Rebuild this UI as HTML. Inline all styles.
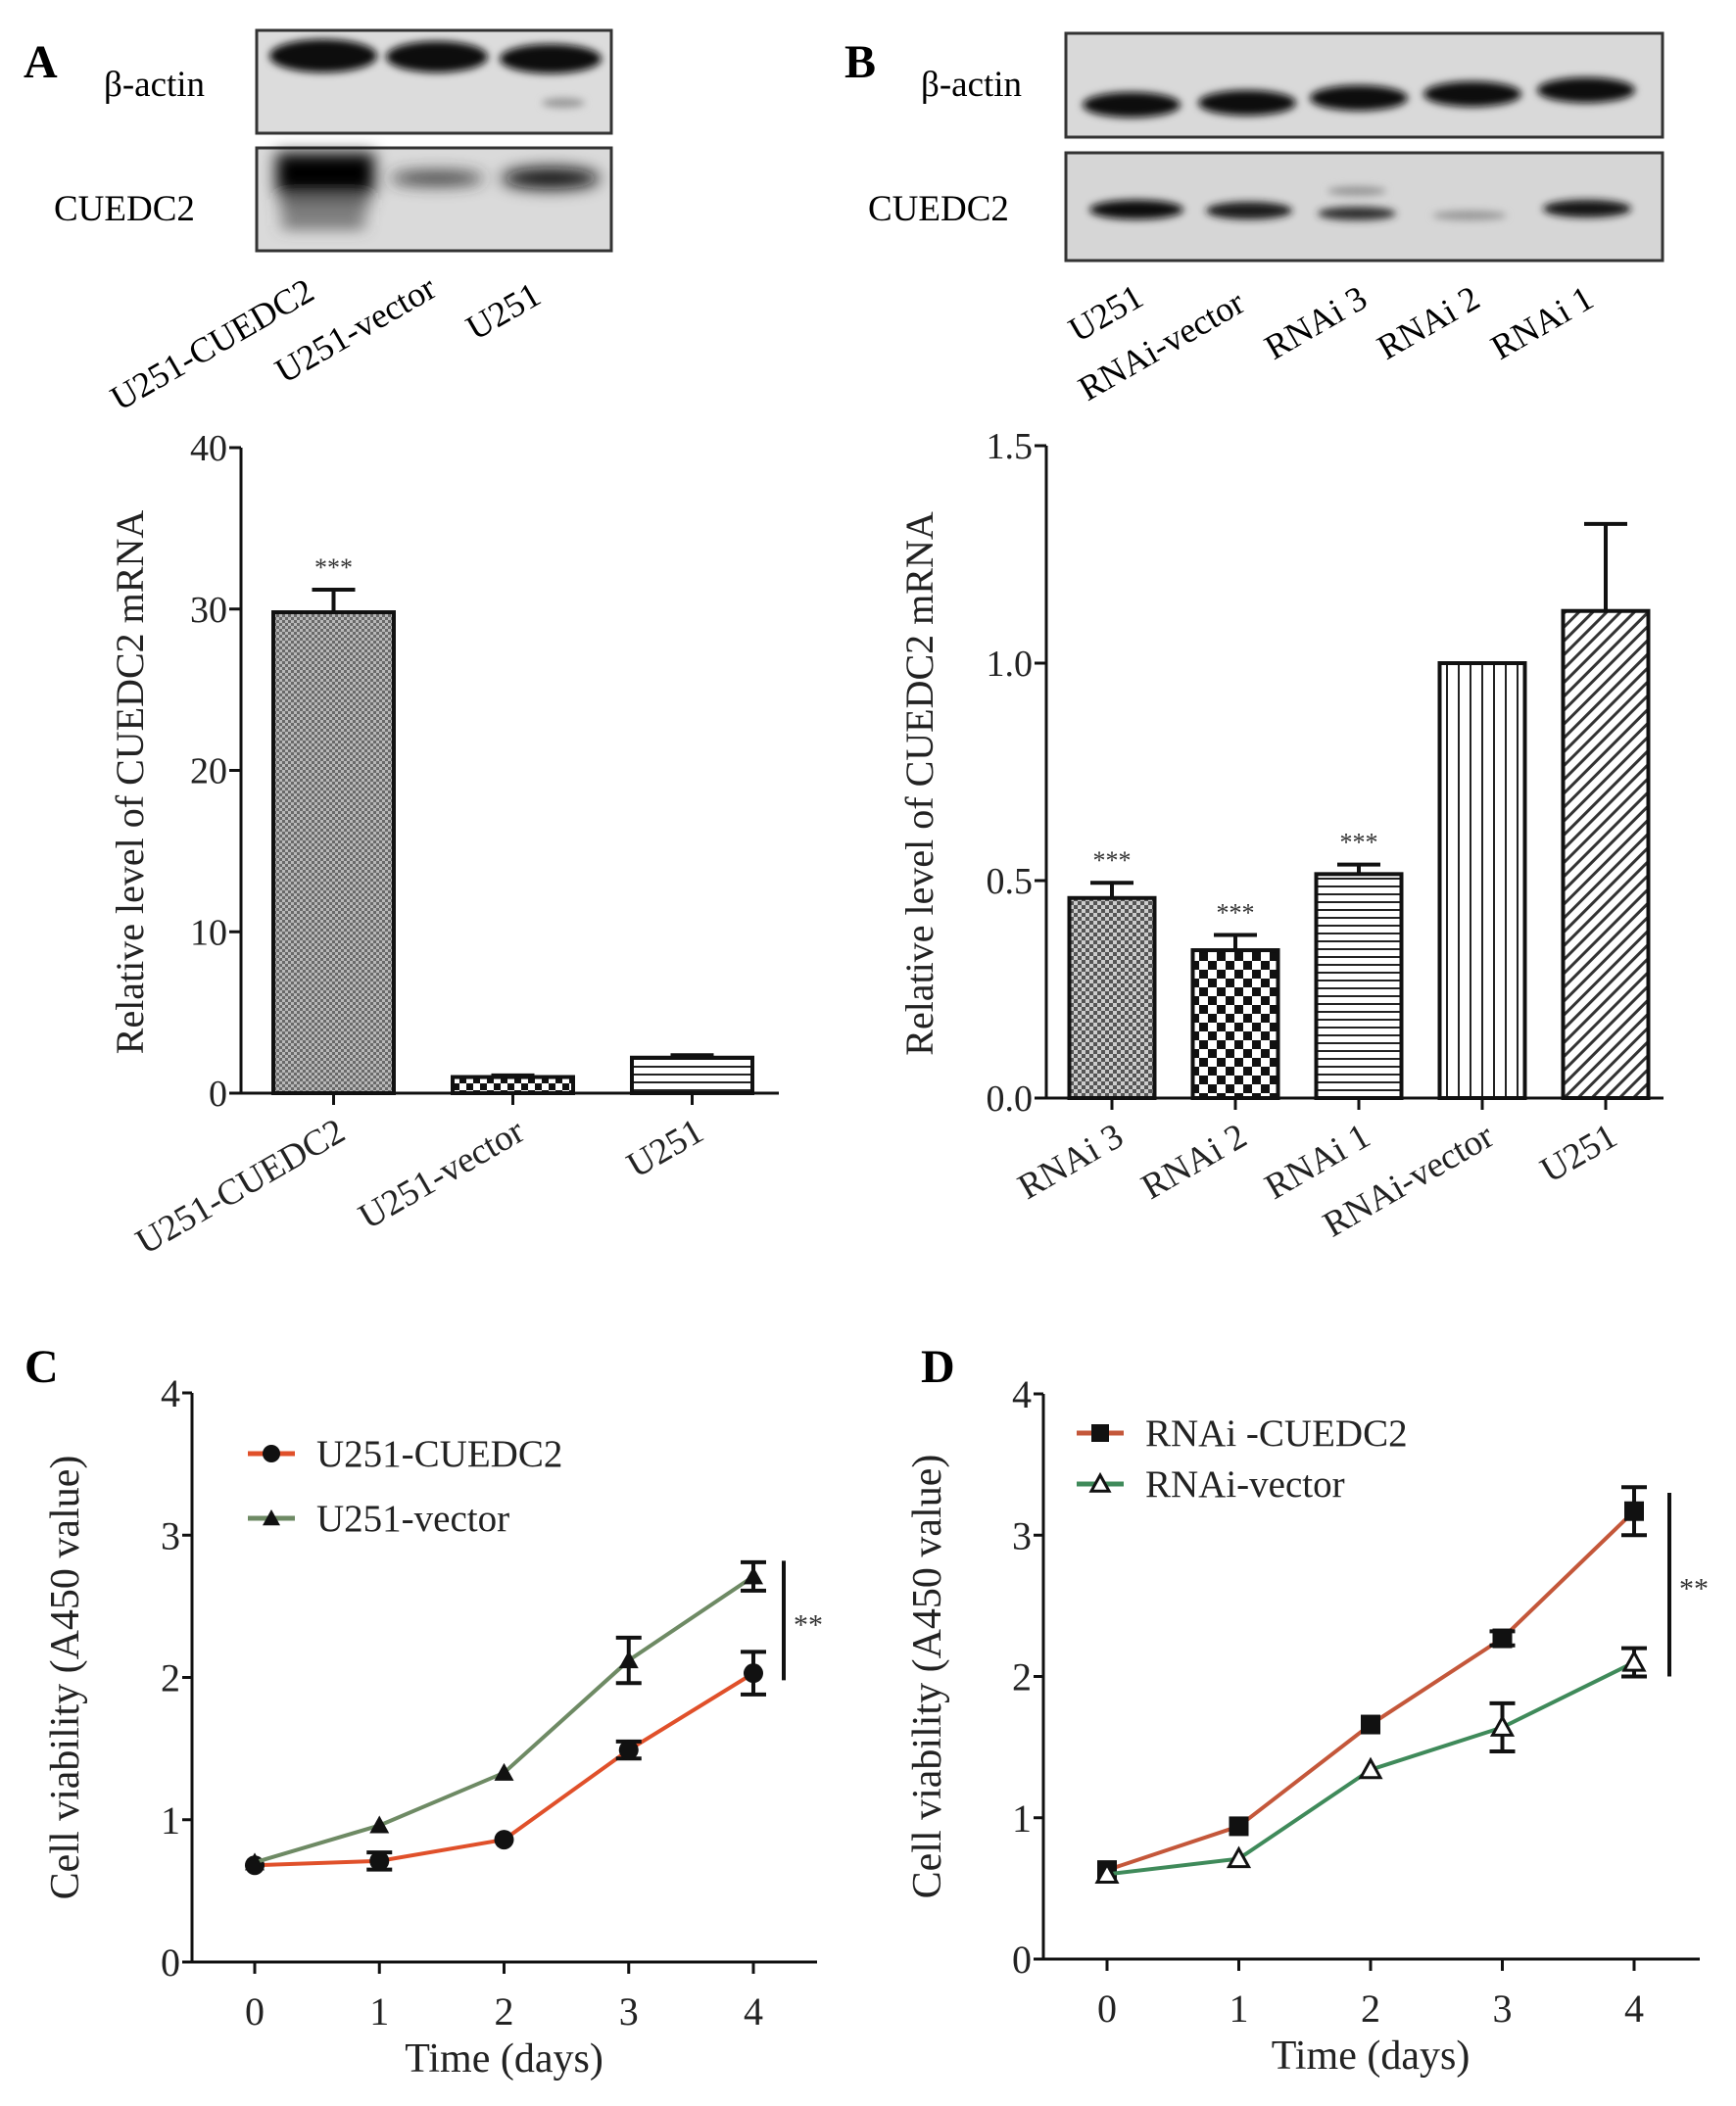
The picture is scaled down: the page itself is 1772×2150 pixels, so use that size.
<!DOCTYPE html>
<html><head><meta charset="utf-8"><style>
html,body{margin:0;padding:0;background:#fff}
svg{display:block;font-family:"Liberation Serif","Times New Roman",serif}
</style></head><body>
<svg id="fig" width="1772" height="2150" viewBox="0 0 1772 2150" xmlns="http://www.w3.org/2000/svg" font-family="Liberation Serif, serif">
<defs>
<filter id="blur4" x="-20%" y="-50%" width="140%" height="200%"><feGaussianBlur stdDeviation="4"/></filter>
<filter id="blur8" x="-20%" y="-50%" width="140%" height="200%"><feGaussianBlur stdDeviation="8"/></filter>
<pattern id="pA1" width="6" height="6" patternUnits="userSpaceOnUse"><rect width="6" height="6" fill="#6a6a6a"/><rect x="0" y="0" width="3" height="3" fill="#b8b8b8"/><rect x="3" y="3" width="3" height="3" fill="#b8b8b8"/></pattern>
<pattern id="pA2" width="14" height="14" patternUnits="userSpaceOnUse"><rect width="14" height="14" fill="#fff"/><rect width="7" height="7" fill="#111"/><rect x="7" y="7" width="7" height="7" fill="#111"/></pattern>
<pattern id="pH" width="8" height="8" patternUnits="userSpaceOnUse"><rect width="8" height="8" fill="#fff"/><rect y="0" width="8" height="2" fill="#222"/></pattern>
<pattern id="pB1" width="8" height="8" patternUnits="userSpaceOnUse"><rect width="8" height="8" fill="#555"/><rect width="4" height="4" fill="#ccc"/><rect x="4" y="4" width="4" height="4" fill="#ccc"/></pattern>
<pattern id="pB2" width="18" height="18" patternUnits="userSpaceOnUse"><rect width="18" height="18" fill="#fff"/><rect width="9" height="9" fill="#111"/><rect x="9" y="9" width="9" height="9" fill="#111"/></pattern>
<pattern id="pV" width="12" height="12" patternUnits="userSpaceOnUse"><rect width="12" height="12" fill="#fff"/><rect x="0" width="2" height="12" fill="#222"/></pattern>
<pattern id="pD" width="10" height="10" patternUnits="userSpaceOnUse" patternTransform="rotate(45)"><rect width="10" height="10" fill="#fff"/><rect width="3" height="10" fill="#333"/></pattern>
</defs>

<g>
<text x="24" y="79" font-size="48" font-weight="bold">A</text>
<text x="106" y="98" font-size="37">β-actin</text>
<text x="55" y="225" font-size="37">CUEDC2</text>
<rect x="262" y="31" width="362" height="105" fill="#dcdcdc" stroke="#333" stroke-width="3"/>
<g filter="url(#blur4)"><ellipse cx="330" cy="57" rx="55" ry="17" fill="#080808"/><ellipse cx="446" cy="58" rx="52" ry="16" fill="#080808"/><ellipse cx="562" cy="60" rx="52" ry="15" fill="#0a0a0a"/><ellipse cx="575" cy="105" rx="22" ry="5" fill="#999"/></g>
<rect x="262" y="151" width="362" height="105" fill="#dadada" stroke="#333" stroke-width="3"/>
<g filter="url(#blur8)"><rect x="282" y="156" width="100" height="42" fill="#050505"/><rect x="286" y="202" width="90" height="12" fill="#444"/><rect x="288" y="220" width="84" height="12" fill="#555"/><ellipse cx="446" cy="182" rx="48" ry="7" fill="#333"/><ellipse cx="562" cy="182" rx="50" ry="11" fill="#111"/></g>
<text transform="translate(122,420) rotate(-30)" font-size="36">U251-CUEDC2</text>
<text transform="translate(290,392) rotate(-30)" font-size="36">U251-vector</text>
<text transform="translate(485,348) rotate(-30)" font-size="36">U251</text>
</g>

<g>
<text x="862" y="79" font-size="48" font-weight="bold">B</text>
<text x="940" y="98" font-size="37">β-actin</text>
<text x="886" y="225" font-size="37">CUEDC2</text>
<rect x="1088" y="34" width="609" height="106" fill="#d9d9d9" stroke="#333" stroke-width="3"/>
<g filter="url(#blur4)"><ellipse cx="1155" cy="107" rx="50" ry="13" fill="#080808"/><ellipse cx="1273" cy="105" rx="50" ry="13" fill="#080808"/><ellipse cx="1387" cy="100" rx="50" ry="13" fill="#080808"/><ellipse cx="1503" cy="96" rx="50" ry="13" fill="#080808"/><ellipse cx="1619" cy="92" rx="50" ry="13" fill="#080808"/></g>
<rect x="1088" y="156" width="609" height="110" fill="#d6d6d6" stroke="#333" stroke-width="3"/>
<g filter="url(#blur4)"><ellipse cx="1160" cy="214" rx="48" ry="10" fill="#111"/><ellipse cx="1275" cy="215" rx="44" ry="9" fill="#1a1a1a"/><ellipse cx="1385" cy="218" rx="40" ry="7" fill="#333"/><ellipse cx="1385" cy="195" rx="30" ry="5" fill="#999"/><ellipse cx="1500" cy="220" rx="38" ry="5" fill="#999"/><ellipse cx="1620" cy="213" rx="45" ry="9" fill="#151515"/></g>
<text transform="translate(1100,350) rotate(-30)" font-size="36">U251</text>
<text transform="translate(1110,410) rotate(-30)" font-size="36">RNAi-vector</text>
<text transform="translate(1300,368) rotate(-30)" font-size="36">RNAi 3</text>
<text transform="translate(1415,368) rotate(-30)" font-size="36">RNAi 2</text>
<text transform="translate(1531,368) rotate(-30)" font-size="36">RNAi 1</text>
</g>

<g id="chartA"></g>
<g id="chartB"></g>
<g id="chartC"></g>
<g id="chartD"></g>
</svg>
<script>
// Panel A data
const catsA = ["U251-CUEDC2","U251-vector","U251"];
const valsA = [29.8, 1.0, 2.2];
const errA = [1.4, 0.1, 0.15];
const sigA = ["***","",""];
const ticksA = [0,10,20,30,40];
// Panel B data
const catsB = ["RNAi 3","RNAi 2","RNAi 1","RNAi-vector","U251"];
const valsB = [0.46, 0.34, 0.515, 1.0, 1.12];
const errB = [0.035, 0.035, 0.022, 0, 0.2];
const sigB = ["***","***","***","",""];
const ticksB = ["0.0","0.5","1.0","1.5"];
// Panel C data
const daysC = [0,1,2,3,4];
const cuedC = [0.68, 0.71, 0.86, 1.49, 2.03];
const cuedErrC = [0.02, 0.06, 0.02, 0.06, 0.15];
const vecC = [0.70, 0.96, 1.33, 2.12, 2.71];
const vecErrC = [0.02, 0.02, 0.02, 0.16, 0.10];
// Panel D data
const daysD = [0,1,2,3,4];
const rnaiD = [0.63, 0.94, 1.66, 2.27, 3.17];
const rnaiErrD = [0.02, 0.02, 0.03, 0.05, 0.17];
const vecD = [0.60, 0.71, 1.34, 1.64, 2.10];
const vecErrD = [0.02, 0.02, 0.03, 0.17, 0.10];
const ticksLine = [0,1,2,3,4];

const NS="http://www.w3.org/2000/svg";
function mk(parent, tag, attrs, text){
  const el=document.createElementNS(NS,tag);
  for(const k in attrs) el.setAttribute(k, attrs[k]);
  if(text!==undefined) el.textContent=text;
  parent.appendChild(el);
  return el;
}

function barChart(g, cfg, cats, vals, errs, sigs, ticks, fills){
  const y = v => cfg.y0 - (v - 0)/(cfg.max) * (cfg.y0 - cfg.yTop);
  const n = cats.length;
  const step = (cfg.xEnd - cfg.x0 - cfg.pad) / n;
  const xc = i => cfg.x0 + cfg.pad + step*(i+0.5) - cfg.shift;
  let a=mk(g,'line',{x1:cfg.x0,y1:cfg.yTop,x2:cfg.x0,y2:cfg.y0,stroke:'#111','stroke-width':3});
   
  a=mk(g,'line',{x1:cfg.x0-12,y1:cfg.y0,x2:cfg.xEnd,y2:cfg.y0,stroke:'#111','stroke-width':3});
   
  ticks.forEach(t=>{
    const v=parseFloat(t);
    const l=mk(g,'line',{x1:cfg.x0-12,y1:y(v),x2:cfg.x0,y2:y(v),stroke:'#111','stroke-width':3});
     
    const tx=mk(g,'text',{x:cfg.x0-14,y:y(v)+13,'text-anchor':'end','font-size':38,fill:'#222'},String(t));
     
  });
  const yt=mk(g,'text',{transform:`translate(${cfg.titleX},${(cfg.yTop+cfg.y0)/2+12}) rotate(-90)`,'text-anchor':'middle','font-size':40,fill:'#222'},'Relative level of CUEDC2 mRNA');
   
  cats.forEach((c,i)=>{
    const cx=xc(i), w=cfg.bw;
    const top=y(vals[i]);
    if(errs[i]>0){
      const et=y(vals[i]+errs[i]);
      const e=mk(g,'path',{d:`M${cx} ${top} V${et} M${cx-22} ${et} H${cx+22}`,stroke:'#111','stroke-width':4,fill:'none'});
       
    }
    const r=mk(g,'rect',{x:cx-w/2,y:top,width:w,height:cfg.y0-top,fill:fills[i],stroke:'#111','stroke-width':4});
     
    if(sigs[i]){
      const s=mk(g,'text',{x:cx,y:y(vals[i]+errs[i])-14,'text-anchor':'middle','font-size':26,fill:'#333'},sigs[i]);
       
    }
    const tk=mk(g,'line',{x1:cx,y1:cfg.y0,x2:cx,y2:cfg.y0+12,stroke:'#111','stroke-width':3});
     
    const lb=mk(g,'text',{transform:`translate(${cx+14},${cfg.y0+46}) rotate(-30)`,'text-anchor':'end','font-size':37,fill:'#222'},c);
     
  });
}

barChart(document.getElementById('chartA'),{x0:246,xEnd:795,y0:1116,yTop:457,max:40,pad:0,shift:-3,bw:123,titleX:146},
  catsA,valsA,errA,sigA,ticksA,['url(#pA1)','url(#pA2)','url(#pH)']);
barChart(document.getElementById('chartB'),{x0:1068,xEnd:1698,y0:1121,yTop:455,max:1.5,pad:0,shift:-4,bw:87,titleX:952},
  catsB,valsB,errB,sigB,ticksB,['url(#pB1)','url(#pB2)','url(#pH)','url(#pV)','url(#pD)']);

function lineChart(g, cfg, days, s1, e1, s2, e2){
  const x = d => cfg.xd0 + d*(cfg.xd4-cfg.xd0)/4;
  const y = v => cfg.y0 - v/4*(cfg.y0-cfg.yTop);
  let a=mk(g,'line',{x1:cfg.x0,y1:cfg.yTop,x2:cfg.x0,y2:cfg.y0,stroke:'#111','stroke-width':3});
   
  a=mk(g,'line',{x1:cfg.x0,y1:cfg.y0,x2:cfg.xEnd,y2:cfg.y0,stroke:'#111','stroke-width':3});
   
  ticksLine.forEach(t=>{
    const l=mk(g,'line',{x1:cfg.x0-10,y1:y(t),x2:cfg.x0,y2:y(t),stroke:'#111','stroke-width':3});
     
    const tx=mk(g,'text',{x:cfg.x0-12,y:y(t)+14,'text-anchor':'end','font-size':40,fill:'#222'},String(t));
     
  });
  days.forEach(d=>{
    const l=mk(g,'line',{x1:x(d),y1:cfg.y0,x2:x(d),y2:cfg.y0+12,stroke:'#111','stroke-width':3});
     
    const tx=mk(g,'text',{x:x(d),y:cfg.y0+64,'text-anchor':'middle','font-size':40,fill:'#222'},String(d));
     
  });
  const xt=mk(g,'text',{x:(cfg.xd0+cfg.xd4)/2,y:cfg.y0+112,'text-anchor':'middle','font-size':42,fill:'#222'},'Time (days)');
   
  const yt=mk(g,'text',{transform:`translate(${cfg.titleX},${(cfg.yTop+cfg.y0)/2}) rotate(-90)`,'text-anchor':'middle','font-size':42,fill:'#222'},'Cell viability (A450 value)');
   
  const series=[[s1,e1,cfg.c1,cfg.m1,cfg.n1],[s2,e2,cfg.c2,cfg.m2,cfg.n2]];
  series.forEach(([s,e,col,mark,name])=>{
    const p=mk(g,'polyline',{points:days.map((d,i)=>x(d)+','+y(s[i])).join(' '),fill:'none',stroke:col,'stroke-width':4});
     
    days.forEach((d,i)=>{
      if(e[i]>0.04){
        const t=y(s[i]+e[i]), b=y(s[i]-e[i]);
        const eb=mk(g,'path',{d:`M${x(d)} ${t} V${b} M${x(d)-13} ${t} H${x(d)+13} M${x(d)-13} ${b} H${x(d)+13}`,stroke:'#111','stroke-width':4,fill:'none'});
         
      }
      const m=marker(g,mark,x(d),y(s[i]),10);
       
    });
  });
  [[cfg.c1,cfg.m1,cfg.l1,cfg.ly1],[cfg.c2,cfg.m2,cfg.l2,cfg.ly2]].forEach(([col,mark,lab,ly])=>{
    const ln=mk(g,'line',{x1:cfg.lx,y1:ly,x2:cfg.lx+48,y2:ly,stroke:col,'stroke-width':5});
     
    const mm=marker(g,mark,cfg.lx+24,ly,9);
     
    const t=mk(g,'text',{x:cfg.lx+70,y:ly+13,'font-size':39,fill:'#222'},lab);
     
  });
  const sl=mk(g,'line',{x1:cfg.sigX,y1:y(cfg.sigTop),x2:cfg.sigX,y2:y(cfg.sigBot),stroke:'#111','stroke-width':4});
   
  const st=mk(g,'text',{x:cfg.sigX+10,y:y((cfg.sigTop+cfg.sigBot)/2)+14,'font-size':30,fill:'#333'},'**');
   
  const pl=mk(g,'text',{x:cfg.px,y:cfg.py,'font-size':48,'font-weight':'bold'},cfg.plabel);
   
}
function marker(g,type,cx,cy,r){
  if(type==='circle') return mk(g,'circle',{cx,cy,r,fill:'#111'});
  if(type==='square') return mk(g,'rect',{x:cx-r,y:cy-r,width:2*r,height:2*r,fill:'#111'});
  if(type==='tri') return mk(g,'polygon',{points:`${cx},${cy-r} ${cx-r},${cy+r*0.8} ${cx+r},${cy+r*0.8}`,fill:'#111'});
  return mk(g,'polygon',{points:`${cx},${cy-r} ${cx-r},${cy+r*0.8} ${cx+r},${cy+r*0.8}`,fill:'#fff',stroke:'#111','stroke-width':3});
}

lineChart(document.getElementById('chartC'),{x0:196,xEnd:834,y0:2003,yTop:1422,xd0:260,xd4:769,titleX:80,
  c1:'#e0502a',m1:'circle',n1:'u251-cuedc2',l1:'U251-CUEDC2',c2:'#6e8a64',m2:'tri',n2:'u251-vector',l2:'U251-vector',
  lx:253,ly1:1484,ly2:1550,sigX:800,sigTop:2.82,sigBot:1.98,px:25,py:1411,plabel:'C'},
  daysC,cuedC,cuedErrC,vecC,vecErrC);
lineChart(document.getElementById('chartD'),{x0:1065,xEnd:1735,y0:2000,yTop:1423,xd0:1130,xd4:1668,titleX:960,
  c1:'#c4573a',m1:'square',n1:'rnai-cuedc2',l1:'RNAi -CUEDC2',c2:'#3f8a5a',m2:'otri',n2:'rnai-vector',l2:'RNAi-vector',
  lx:1099,ly1:1463,ly2:1515,sigX:1704,sigTop:3.3,sigBot:2.0,px:940,py:1411,plabel:'D'},
  daysD,rnaiD,rnaiErrD,vecD,vecErrD);
</script>
</body></html>
